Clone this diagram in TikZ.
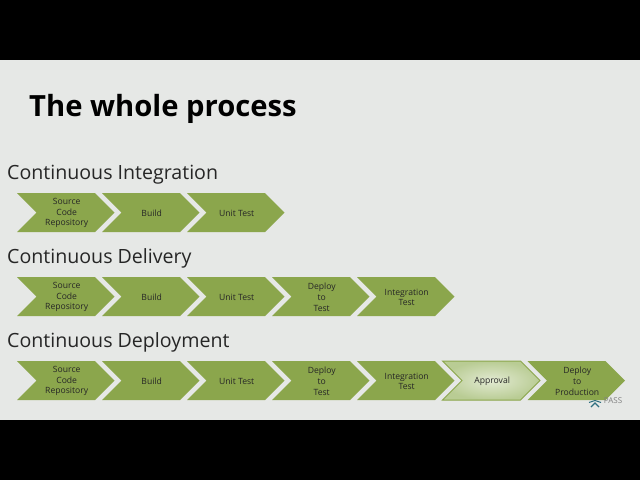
\documentclass[tikz,border=0pt]{standalone}
\usepackage{fontspec}
\setmainfont{Open Sans}
\definecolor{pagebg}{HTML}{E6E8E6}
\definecolor{chevgreen}{HTML}{8BA64C}
\definecolor{chevpale}{HTML}{E2EAD2}
\definecolor{chevmid}{HTML}{B9CC94}
\definecolor{logoteal}{HTML}{2F6F80}
\tikzset{
  x=1pt,y=-1pt,
  chevfill/.style={fill=chevgreen},
  chevlight/.style={draw=chevgreen,line width=1pt,inner color=chevpale,outer color=chevmid},
  chevtext/.style={font=\fontsize{8.6}{10.6}\selectfont,text=black!85,align=center,inner sep=0pt},
  rowhead/.style={font=\fontsize{19.6}{24}\selectfont,text=black!85,anchor=west,inner sep=0pt},
  pagetitle/.style={font=\fontsize{29.2}{34}\selectfont\bfseries,text=black,anchor=west,inner sep=0pt},
}
\newcommand{\chev}[5][chevfill]{%
  \path[#1] (#3,#4) -- ++(78,0) -- ++(19.5,19.5) -- ++(-19.5,19.5) -- ++(-78,0) -- ++(19.5,-19.5) -- cycle;
  \node[chevtext] (#2) at (#3+49.7,#4+20.3) {#5};
}
\begin{document}
\begin{tikzpicture}
\useasboundingbox (0,0) rectangle (640,480);
\fill[black] (0,0) rectangle (640,480);
\fill[pagebg] (0,60) rectangle (640,420);
\node[pagetitle] (title) at (29,108.5) {The whole process};
\node[rowhead] (ci) at (7,174.5) {Continuous Integration};
\chev{a1}{17}{193}{Source\\Code\\Repository}
\chev{a2}{102}{193}{Build}
\chev{a3}{187}{193}{Unit Test}
\node[rowhead] (cd) at (7,258.5) {Continuous Delivery};
\chev{b1}{17}{277}{Source\\Code\\Repository}
\chev{b2}{102}{277}{Build}
\chev{b3}{187}{277}{Unit Test}
\chev{b4}{272}{277}{Deploy\\to\\Test}
\chev{b5}{357}{277}{Integration\\Test}
\node[rowhead] (cp) at (7,342.5) {Continuous Deployment};
\chev{c1}{17}{361}{Source\\Code\\Repository}
\chev{c2}{102}{361}{Build}
\chev{c3}{187}{361}{Unit Test}
\chev{c4}{272}{361}{Deploy\\to\\Test}
\chev{c5}{357}{361}{Integration\\Test}
\chev[chevlight]{c6}{442.5}{361}{Approval}
\chev{c7}{527.5}{361}{Deploy\\to\\Production}
\draw[logoteal,line width=1pt] (589,402.5) -- (595,400.5) -- (601,402.5);
\draw[logoteal,line width=1.1pt] (591,407) -- (595,403) -- (599,407);
\node[font=\fontsize{8}{10}\selectfont,text=black!50,inner sep=0pt] (pass) at (613,400.5) {PASS};
\end{tikzpicture}
\end{document}
